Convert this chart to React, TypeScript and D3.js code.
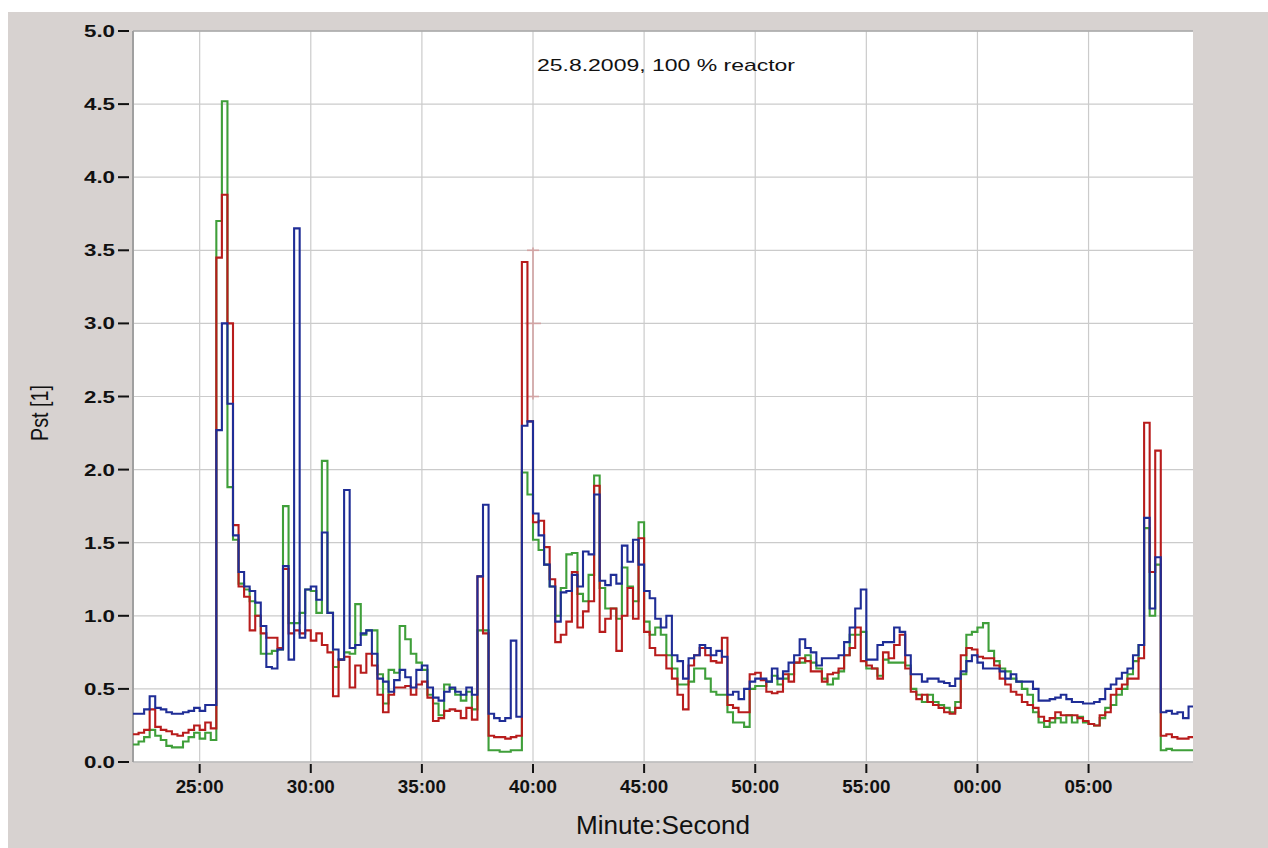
import React from "react";
import * as d3 from "d3";

// time axis in minutes (values past 60 continue into the next hour)
const T0 = 22;
const STEP = 0.25;
const T_END = 69.7;

const TICK_MINUTES = [25, 30, 35, 40, 45, 50, 55, 60, 65];
const TICK_LABELS = ["25:00", "30:00", "35:00", "40:00", "45:00", "50:00", "55:00", "00:00", "05:00"];
const Y_TICKS = [0, 0.5, 1, 1.5, 2, 2.5, 3, 3.5, 4, 4.5, 5];

const TITLE = "25.8.2009, 100 % reactor";
const X_TITLE = "Minute:Second";
const Y_TITLE = "Pst [1]";

const BLUE = [
  0.33, 0.33, 0.36, 0.45, 0.37, 0.36, 0.34, 0.33, 0.33, 0.34, 0.35, 0.37, 0.35, 0.39, 0.39,
  2.27, 3.0, 2.45, 1.55, 1.3, 1.2,
  1.17, 1.09, 0.93, 0.65, 0.64, 0.77, 1.34, 0.7, 3.65,
  0.85, 1.18, 1.2, 1.11, 1.57, 1.02, 0.77, 0.7, 1.86, 0.78, 0.8,
  0.88, 0.9, 0.74, 0.57, 0.55, 0.48, 0.56, 0.63, 0.58, 0.51,
  0.63, 0.66, 0.51, 0.44, 0.42, 0.48, 0.51, 0.48, 0.46, 0.51, 0.46,
  1.27, 1.76, 0.33, 0.3, 0.28, 0.3, 0.83, 0.31,
  2.3, 2.33, 1.7, 1.55, 1.35, 1.2,
  0.96, 1.16, 1.17, 1.28, 1.2, 1.44, 1.42, 1.83,
  1.24, 1.21, 1.28, 1.22, 1.48, 1.37, 1.52, 1.35,
  1.17, 1.12, 0.98, 0.92, 1.0, 0.73, 0.69, 0.57,
  0.71, 0.73, 0.8, 0.78, 0.73, 0.76, 0.72, 0.46, 0.48, 0.43, 0.5, 0.55,
  0.57, 0.57,
  0.55, 0.64, 0.57, 0.62, 0.68, 0.73, 0.84, 0.78, 0.75, 0.66, 0.71, 0.71, 0.71, 0.73, 0.82, 0.92, 1.05, 1.18,
  0.7, 0.7, 0.8, 0.82, 0.82, 0.92, 0.89, 0.73, 0.6, 0.6, 0.55, 0.57, 0.57, 0.55, 0.54, 0.52, 0.57, 0.62, 0.69,
  0.73, 0.68, 0.64, 0.64, 0.64, 0.62, 0.57, 0.6, 0.55, 0.55, 0.55, 0.5, 0.42, 0.42, 0.43, 0.44, 0.46, 0.43, 0.41, 0.41, 0.4, 0.4, 0.41, 0.43, 0.5, 0.53, 0.57, 0.61, 0.64, 0.73, 0.8,
  1.67, 1.05, 1.4, 0.34, 0.35, 0.33, 0.34, 0.3, 0.38,
];

const RED = [
  0.19, 0.2, 0.22, 0.36, 0.24, 0.22, 0.21, 0.19, 0.18, 0.2, 0.22, 0.25, 0.22, 0.27, 0.23,
  3.45, 3.88, 3.0, 1.62, 1.2, 1.13,
  0.9, 1.0, 0.88, 0.85, 0.85, 0.78, 1.32, 0.88, 0.9,
  0.88, 0.9, 0.83, 0.88, 0.8, 0.75, 0.45, 0.7, 0.72, 0.51, 0.66,
  0.61, 0.74, 0.66, 0.46, 0.34, 0.46, 0.51, 0.51, 0.52, 0.46,
  0.53, 0.55, 0.44, 0.28, 0.3, 0.35, 0.36, 0.35, 0.3, 0.37, 0.29,
  1.27, 0.88, 0.18, 0.17, 0.17, 0.16, 0.17, 0.18,
  3.42, 2.33, 1.64, 1.65, 1.47, 1.25,
  0.82, 0.87, 0.96, 1.3, 0.92, 1.03, 1.1, 1.89,
  0.89, 0.98, 1.05, 0.76, 1.0, 1.19, 0.98, 1.53,
  0.89, 0.78, 0.73, 0.73, 0.64, 0.57, 0.46, 0.36,
  0.66, 0.73, 0.78, 0.73, 0.69, 0.68, 0.85, 0.39, 0.37, 0.34, 0.34, 0.6,
  0.61, 0.56,
  0.48, 0.47, 0.48, 0.6, 0.55, 0.68, 0.71, 0.69, 0.62, 0.62, 0.55, 0.6, 0.61, 0.64, 0.73, 0.78, 0.92, 0.69,
  0.66, 0.64, 0.57, 0.75, 0.71, 0.8, 0.87, 0.64, 0.48, 0.43, 0.46, 0.41, 0.39, 0.37, 0.34, 0.33, 0.37, 0.73, 0.78,
  0.77, 0.72, 0.71, 0.71, 0.66, 0.57, 0.53, 0.48, 0.46, 0.41, 0.39, 0.37, 0.31, 0.28, 0.3, 0.34, 0.32, 0.32, 0.32, 0.3, 0.28, 0.26, 0.25, 0.32, 0.34, 0.46, 0.5, 0.53, 0.57, 0.57, 0.71,
  2.32, 1.3, 2.13, 0.18, 0.19, 0.17, 0.16, 0.16, 0.17,
];

const GREEN = [
  0.12, 0.14, 0.17, 0.22, 0.18, 0.15, 0.11, 0.1, 0.1, 0.14, 0.17, 0.2, 0.16, 0.2, 0.15,
  3.7, 4.52, 1.88, 1.52, 1.22, 1.18,
  1.1, 1.0, 0.74, 0.74, 0.76, 0.77, 1.75, 0.95, 0.95,
  1.02, 1.18, 1.17, 1.02, 2.06, 1.02, 0.65, 0.7, 0.75, 0.74, 1.08,
  0.87, 0.9, 0.9, 0.6, 0.4, 0.63, 0.61, 0.93, 0.84, 0.74,
  0.68, 0.63, 0.46, 0.4, 0.32, 0.53, 0.5, 0.46, 0.42, 0.48, 0.36,
  0.9, 0.9, 0.08, 0.08, 0.07, 0.07, 0.08, 0.08,
  1.98, 1.83, 1.52, 1.45, 1.35, 1.2,
  1.0, 1.19, 1.42, 1.43, 1.15, 1.1, 1.28, 1.96,
  1.19, 1.05, 1.05, 0.98, 1.33, 1.2, 1.1, 1.64,
  0.96, 0.87, 0.92, 0.87, 0.73, 0.64, 0.53, 0.53,
  0.55, 0.64, 0.64, 0.57, 0.48, 0.46, 0.46, 0.34, 0.27, 0.27, 0.24, 0.5,
  0.52, 0.52,
  0.55, 0.59, 0.53, 0.57, 0.6, 0.68, 0.68, 0.73, 0.68, 0.64, 0.57, 0.53, 0.57, 0.62, 0.73, 0.87, 0.87, 0.89,
  0.64, 0.64, 0.59, 0.7, 0.68, 0.68, 0.68, 0.66, 0.5, 0.46, 0.41, 0.46, 0.41, 0.39, 0.37, 0.34, 0.41, 0.6, 0.87,
  0.89, 0.92, 0.95, 0.76, 0.69, 0.64, 0.62, 0.57, 0.55, 0.5, 0.46, 0.34, 0.27, 0.24, 0.27, 0.3, 0.27, 0.32, 0.27, 0.31, 0.27, 0.26, 0.25, 0.3, 0.37, 0.39, 0.46, 0.5, 0.6, 0.69, 0.8,
  1.6, 1.0, 1.35, 0.08, 0.09, 0.08, 0.08, 0.08, 0.08,
];

const SERIES = [
  { name: "green", values: GREEN, color: "#3f9f3a" },
  { name: "red", values: RED, color: "#b81c1c" },
  { name: "blue", values: BLUE, color: "#1f2d96" },
];

const W = 1268;
const H = 848;
const PL = 133;
const PR = 1193;
const PT = 31;
const PB = 762;

export default function App() {
  const x = d3.scaleLinear().domain([T0, T_END]).range([PL, PR]);
  const y = d3.scaleLinear().domain([0, 5]).range([PB, PT]);
  const fmt = d3.format(".1f");

  const line = d3
    .line<[number, number]>()
    .x((d) => x(d[0]))
    .y((d) => y(d[1]))
    .curve(d3.curveStepAfter);

  const toPts = (vals: number[]): [number, number][] => {
    const pts: [number, number][] = vals.map((v, i) => [T0 + i * STEP, v]);
    pts.push([T0 + vals.length * STEP, vals[vals.length - 1]]);
    return pts;
  };

  return (
    <svg
      width={W}
      height={H}
      style={{ position: "absolute", left: 0, top: 0, display: "block" }}
      fontFamily="'Liberation Sans', Arial, sans-serif"
    >
      <rect x={0} y={0} width={W} height={H} fill="#ffffff" />
      <rect x={8} y={12} width={W - 8} height={H - 12} fill="#d7d2d0" />
      <rect x={PL} y={PT} width={PR - PL} height={PB - PT} fill="#ffffff" />
      <defs>
        <clipPath id="plotclip">
          <rect x={PL} y={PT - 2} width={PR - PL} height={PB - PT + 2} />
        </clipPath>
      </defs>

      {/* grid */}
      {Y_TICKS.map((t) => (
        <line key={"gy" + t} x1={PL} x2={PR} y1={y(t)} y2={y(t)} stroke="#cbcbcb" strokeWidth={1.2} />
      ))}
      {TICK_MINUTES.map((m) => (
        <line key={"gx" + m} x1={x(m)} x2={x(m)} y1={PT} y2={PB} stroke="#cbcbcb" strokeWidth={1.2} />
      ))}
      <line x1={PL} x2={PR} y1={PT} y2={PT} stroke="#a9a9a9" strokeWidth={1.5} />
      <line x1={PL} x2={PR} y1={PB} y2={PB} stroke="#bdbdbd" strokeWidth={1.5} />
      <line x1={PL} x2={PL} y1={PT} y2={PB} stroke="#a0a0a0" strokeWidth={2} />

      {/* cursor marker near 40:00 */}
      <g stroke="#d2a4a4" strokeWidth={1.6}>
        <line x1={x(40)} x2={x(40)} y1={y(3.52)} y2={y(2.48)} />
        {[3.5, 3.0, 2.5].map((v) => (
          <line key={"cm" + v} x1={x(40) - (v === 3 ? 8 : 6)} x2={x(40) + (v === 3 ? 8 : 6)} y1={y(v)} y2={y(v)} />
        ))}
      </g>

      {/* series */}
      <g clipPath="url(#plotclip)">
        {SERIES.map((s) => (
          <path
            key={s.name}
            d={line(toPts(s.values)) || ""}
            fill="none"
            stroke={s.color}
            strokeWidth={2.1}
            strokeLinejoin="miter"
          />
        ))}
      </g>

      {/* y axis ticks and labels */}
      {Y_TICKS.map((t) => (
        <g key={"yt" + t}>
          <line x1={118} x2={129} y1={y(t)} y2={y(t)} stroke="#111" strokeWidth={2} />
          <text
            x={115}
            y={y(t) + 6}
            textAnchor="end"
            fontSize={16.5}
            fontWeight="bold"
            fill="#111"
            textLength={31}
            lengthAdjust="spacingAndGlyphs"
          >
            {fmt(t)}
          </text>
        </g>
      ))}

      {/* x axis ticks and labels */}
      {TICK_MINUTES.map((m, i) => (
        <g key={"xt" + m}>
          <line x1={x(m)} x2={x(m)} y1={PB + 2} y2={PB + 11} stroke="#111" strokeWidth={2} />
          <text
            x={x(m)}
            y={793}
            textAnchor="middle"
            fontSize={18.5}
            fontWeight="bold"
            fill="#111"
            textLength={48}
            lengthAdjust="spacingAndGlyphs"
          >
            {TICK_LABELS[i]}
          </text>
        </g>
      ))}

      {/* titles */}
      <text x={666} y={71} textAnchor="middle" fontSize={17} fill="#111" textLength={258} lengthAdjust="spacingAndGlyphs">
        {TITLE}
      </text>
      <text x={663} y={834} textAnchor="middle" fontSize={25} fill="#111" textLength={174} lengthAdjust="spacingAndGlyphs">
        {X_TITLE}
      </text>
      <text
        transform="translate(48,413) rotate(-90)"
        textAnchor="middle"
        fontSize={23}
        fill="#111"
        textLength={56}
        lengthAdjust="spacingAndGlyphs"
      >
        {Y_TITLE}
      </text>
    </svg>
  );
}
